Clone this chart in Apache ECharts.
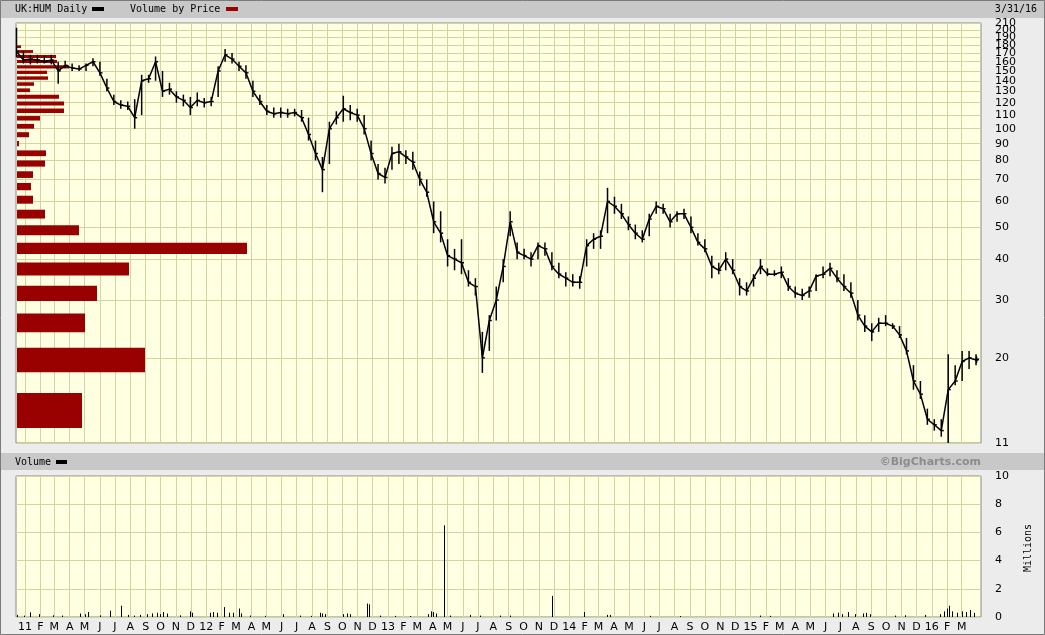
<!DOCTYPE html>
<html><head><meta charset="utf-8">
<script src="https://cdn.jsdelivr.net/npm/echarts@6/dist/echarts.min.js"></script>
<style>html,body{margin:0;padding:0;background:#ececec;}#c{width:1045px;height:635px;}</style>
</head><body><div id="c"></div><script>
// ---- data ----
const priceDates = ['2010-12-15','2010-12-29','2011-01-12','2011-01-26','2011-02-09','2011-02-23','2011-03-09','2011-03-23','2011-04-06','2011-04-20','2011-05-04','2011-05-18','2011-06-01','2011-06-15','2011-06-29','2011-07-13','2011-07-27','2011-08-10','2011-08-24','2011-09-07','2011-09-21','2011-10-05','2011-10-19','2011-11-02','2011-11-16','2011-11-30','2011-12-14','2011-12-28','2012-01-11','2012-01-25','2012-02-08','2012-02-22','2012-03-07','2012-03-21','2012-04-04','2012-04-18','2012-05-02','2012-05-16','2012-05-30','2012-06-13','2012-06-27','2012-07-11','2012-07-25','2012-08-08','2012-08-22','2012-09-05','2012-09-19','2012-10-03','2012-10-17','2012-10-31','2012-11-14','2012-11-28','2012-12-12','2012-12-26','2013-01-09','2013-01-23','2013-02-06','2013-02-20','2013-03-06','2013-03-20','2013-04-03','2013-04-17','2013-05-01','2013-05-15','2013-05-29','2013-06-12','2013-06-26','2013-07-10','2013-07-24','2013-08-07','2013-08-21','2013-09-04','2013-09-18','2013-10-02','2013-10-16','2013-10-30','2013-11-13','2013-11-27','2013-12-11','2013-12-25','2014-01-08','2014-01-22','2014-02-05','2014-02-19','2014-03-05','2014-03-19','2014-04-02','2014-04-16','2014-04-30','2014-05-14','2014-05-28','2014-06-11','2014-06-25','2014-07-09','2014-07-23','2014-08-06','2014-08-20','2014-09-03','2014-09-17','2014-10-01','2014-10-15','2014-10-29','2014-11-12','2014-11-26','2014-12-10','2014-12-24','2015-01-07','2015-01-21','2015-02-04','2015-02-18','2015-03-04','2015-03-18','2015-04-01','2015-04-15','2015-04-29','2015-05-13','2015-05-27','2015-06-10','2015-06-24','2015-07-08','2015-07-22','2015-08-05','2015-08-19','2015-09-02','2015-09-16','2015-09-30','2015-10-14','2015-10-28','2015-11-11','2015-11-25','2015-12-09','2015-12-23','2016-01-06','2016-01-20','2016-02-03','2016-02-17','2016-03-02','2016-03-16','2016-03-30','2016-03-31'];
const priceLow = [165,158,157,158,158,157,137,153,150,150,150,155,145,130,118,115,114,100,110,138,140,125,127,120,117,110,117,116,117,125,160,158,150,142,125,118,110,108,108,108,109,105,92,80,64,78,103,105,106,105,96,80,70,68,75,78,78,75,67,62,48,45,38,37,36,33,31,18,21,26,34,47,40,40,38,40,41,37,35,33,33,32.5,38,43,43,48,55,53,49,46,45,47,55,55,50,52,53,48,44,42,35,36,37,36,31,31,33,36,35.5,35.5,35,32,30.5,30,30.5,32,35,35.5,34,32,30.5,26,24,22.5,24,25,24.5,23,20.5,16,15,12.5,12,11.5,11,16.5,17,18.5,19,19.3];
const priceHigh = [203,172,168,168,167,168,160,161,158,156,158,164,160,142,127,122,121,123,146,146,166,150,138,130,127,125,129,124,125,155,175,170,160,156,140,127,118,116,116,115,115,114,108,92,82,105,113,126,118,115,110,92,78,76,88,90,86,85,74,70,60,56,46,43,46,37,35,24,27,33,40,56,45,43,42,45,45,42,39,36.5,36,35.5,46,48,49,66,62,59,54,51,49,55,60,59,55,56,57,54,48,46,41,39,42,40,35,34,36,40,37.5,37,38,35,33,32.5,33,36,38,39,37,36,34,30,27,25.5,26.5,27,25.5,25,23,19,17,14,13,13,20.5,19,21,21,20.5,20.2];
const priceClose = [172,162,163,162,160,162,150,156,153,152,156,160,148,133,121,118,117,108,140,142,160,130,132,125,122,116,122,120,121,150,168,163,155,148,130,121,113,111,112,111,112,108,96,84,75,100,108,115,112,110,100,84,73,71,84,85,82,79,70,64,52,48,41,40,39,34,33,20,26,30,38,52,42,41,40,44,43,38,36,35,34,34,44,46,47,60,58,55,51,48,46,53,58,57,52,55,55,50,45,43,38,37,40,37,33,32,35,38,36,36,36.5,33,31.5,31,32,35.5,36,37.5,35,33,31.5,27,25,24,25.5,25.5,25,23.5,21,17,15.5,13,12.5,12,16,17,19.5,20,19.7,19.8];

const volDates = ['2010-12-17','2010-12-31','2011-01-12','2011-01-30','2011-02-27','2011-03-17','2011-04-22','2011-05-02','2011-05-08','2011-06-01','2011-06-22','2011-07-14','2011-07-28','2011-08-09','2011-08-21','2011-09-04','2011-09-14','2011-09-24','2011-09-30','2011-10-06','2011-10-14','2011-11-09','2011-11-30','2011-12-04','2012-01-09','2012-01-15','2012-01-23','2012-02-06','2012-02-16','2012-02-24','2012-03-07','2012-03-11','2012-03-29','2012-04-29','2012-06-04','2012-07-08','2012-07-30','2012-08-17','2012-08-21','2012-08-27','2012-10-03','2012-10-11','2012-10-17','2012-11-20','2012-11-24','2012-12-16','2013-01-15','2013-02-14','2013-03-23','2013-03-29','2013-04-02','2013-04-08','2013-04-24','2013-05-06','2013-06-15','2013-07-05','2013-08-15','2013-09-04','2013-11-27','2014-01-31','2014-03-17','2014-03-23','2014-06-13','2014-08-12','2015-01-20','2015-02-09','2015-06-16','2015-06-26','2015-07-04','2015-07-16','2015-07-30','2015-08-16','2015-08-22','2015-08-30','2015-10-19','2015-11-08','2015-12-18','2016-01-18','2016-01-26','2016-02-01','2016-02-05','2016-02-11','2016-02-21','2016-03-02','2016-03-10','2016-03-18','2016-03-26'];
const volMillions = [0.15,0.1,0.33,0.2,0.12,0.1,0.25,0.2,0.35,0.12,0.45,0.8,0.15,0.1,0.15,0.2,0.25,0.3,0.2,0.35,0.25,0.12,0.4,0.3,0.3,0.35,0.3,0.7,0.3,0.3,0.6,0.25,0.1,0.08,0.2,0.1,0.08,0.3,0.25,0.2,0.2,0.25,0.2,0.95,0.9,0.1,0.08,0.06,0.2,0.4,0.35,0.25,6.5,0.1,0.15,0.1,0.1,0.1,1.5,0.35,0.15,0.15,0.08,0.05,0.1,0.08,0.25,0.3,0.2,0.35,0.2,0.25,0.3,0.2,0.1,0.12,0.15,0.2,0.4,0.6,0.8,0.4,0.3,0.4,0.35,0.5,0.3];

// volume by price: bucket centre prices and relative volume
const vbpCenters = [13.93,19.78,25.63,31.49,37.34,43.19,49.04,54.90,60.75,66.60,72.45,78.31,84.16,90.01,95.86,101.72,107.57,113.42,119.27,125.13,130.98,136.83,142.68,148.54,154.39,160.24,166.09,171.95,177.80];
const vbpVolume = [65,128,68,80,112,230,62,28,16,14,16,28,29,2,12,17,23,47,47,42,13,17,31,30,52,40,39,16,4];

const priceTicks = [11,20,30,40,50,60,70,80,90,100,110,120,130,140,150,160,170,180,190,200,210];
const volTicks = [0,2,4,6,8,10];
const monthLabels = ['11','F','M','A','M','J','J','A','S','O','N','D',
 '12','F','M','A','M','J','J','A','S','O','N','D',
 '13','F','M','A','M','J','J','A','S','O','N','D',
 '14','F','M','A','M','J','J','A','S','O','N','D',
 '15','F','M','A','M','J','J','A','S','O','N','D',
 '16','F','M'];

// ---- axis helpers ----
const ts = s => { const p = s.split('-'); return +new Date(+p[0], +p[1] - 1, +p[2]); };
const monthTicks = monthLabels.map((l, i) => +new Date(2011, i, 1));
const tickLabel = {};
monthTicks.forEach((t, i) => { tickLabel[t] = monthLabels[i]; });
const xMin = +new Date(2010, 11, 14), xMax = +new Date(2016, 3, 9);
const gridCol = '#d4d4a2';
const F = 'DejaVu Sans';
const VBP_MAX = 965;

const chart = echarts.init(document.getElementById('c'));
chart.setOption({
  animation: false,
  backgroundColor: '#ececec',
  grid: [
    {left: 16, top: 23, width: 965, height: 420, show: true, backgroundColor: '#ffffe2', borderColor: '#8a8a8a', borderWidth: 1},
    {left: 16, top: 476, width: 965, height: 141, show: true, backgroundColor: '#ffffe2', borderColor: '#8a8a8a', borderWidth: 1}
  ],
  xAxis: [
    {type: 'value', gridIndex: 0, min: xMin, max: xMax, axisLine: {show: false},
     axisTick: {show: false, customValues: monthTicks}, axisLabel: {show: false, customValues: monthTicks},
     splitLine: {show: true, lineStyle: {color: gridCol, width: 1}}},
    {type: 'value', gridIndex: 1, min: xMin, max: xMax, axisLine: {show: false},
     axisTick: {show: false, customValues: monthTicks},
     axisLabel: {show: true, customValues: monthTicks, margin: 5, color: '#000', fontFamily: F, fontSize: 11,
       hideOverlap: false, showMinLabel: true, showMaxLabel: true, formatter: v => tickLabel[v] || ''},
     splitLine: {show: true, lineStyle: {color: gridCol, width: 1}}},
    {type: 'value', gridIndex: 0, min: 0, max: VBP_MAX, show: false}
  ],
  yAxis: [
    {type: 'log', logBase: 10, gridIndex: 0, min: 11, max: 210.02, position: 'right',
     axisLine: {show: false}, axisTick: {show: false, customValues: priceTicks},
     axisLabel: {show: false, customValues: priceTicks},
     splitLine: {show: true, lineStyle: {color: gridCol, width: 1}}},
    {type: 'value', gridIndex: 1, min: 0, max: 10, interval: 2, position: 'right',
     axisLine: {show: false}, axisTick: {show: false},
     axisLabel: {margin: 14, color: '#000', fontFamily: F, fontSize: 11, showMinLabel: true, showMaxLabel: true},
     splitLine: {show: true, lineStyle: {color: gridCol, width: 1}}}
  ],
  series: [
    {type: 'custom', xAxisIndex: 2, yAxisIndex: 0, z: 2, silent: true,
     data: vbpCenters.map((c, i) => [vbpVolume[i], c]),
     encode: {x: 0, y: 1},
     renderItem: (params, api) => {
       const c = api.value(1), v = api.value(0);
       const p0 = api.coord([0, c + 1.7]);
       const p1 = api.coord([v, c - 1.7]);
       return {type: 'rect', shape: {x: p0[0] + 1, y: p0[1], width: p1[0] - p0[0], height: p1[1] - p0[1]},
               style: {fill: '#990000'}};
     }},
    // price-axis tick labels placed through the log scale (all shown, overlapping as in the original)
    {type: 'custom', xAxisIndex: 2, yAxisIndex: 0, z: 5, silent: true, clip: false,
     data: priceTicks.map(v => [VBP_MAX, v]),
     encode: {x: 0, y: 1},
     renderItem: (params, api) => {
       const p = api.coord([api.value(0), api.value(1)]);
       return {type: 'text', x: p[0] + 14, y: p[1],
               style: {text: String(api.value(1)), font: '11px "DejaVu Sans"', fill: '#000', align: 'left', verticalAlign: 'middle'}};
     }},
    {type: 'line', xAxisIndex: 0, yAxisIndex: 0, z: 3, silent: true, symbol: 'none',
     data: priceDates.map((d, i) => [ts(d), priceClose[i]]),
     lineStyle: {color: '#000', width: 1.5}},
    {type: 'custom', xAxisIndex: 0, yAxisIndex: 0, z: 4, silent: true,
     data: priceDates.map((d, i) => [ts(d), priceLow[i], priceHigh[i], priceClose[i]]),
     encode: {x: 0, y: [1, 2, 3]},
     renderItem: (params, api) => {
       const t = api.value(0);
       const lo = api.coord([t, api.value(1)]);
       const hi = api.coord([t, api.value(2)]);
       const c = api.coord([t, api.value(3)]);
       return {type: 'group', children: [
         {type: 'line', shape: {x1: lo[0], y1: lo[1], x2: hi[0], y2: hi[1]}, style: {stroke: '#000', lineWidth: 1.5}},
         {type: 'line', shape: {x1: c[0], y1: c[1], x2: c[0] + 2.5, y2: c[1]}, style: {stroke: '#000', lineWidth: 1.5}}
       ]};
     }},
    {type: 'custom', xAxisIndex: 1, yAxisIndex: 1, silent: true,
     data: volDates.map((d, i) => [ts(d), volMillions[i]]),
     encode: {x: 0, y: 1},
     renderItem: (params, api) => {
       const t = api.value(0);
       const top = api.coord([t, api.value(1)]);
       const base = api.coord([t, 0]);
       const x = Math.round(top[0]) + 0.5;
       return {type: 'line', shape: {x1: x, y1: base[1], x2: x, y2: Math.min(top[1], base[1] - 1)},
               style: {stroke: '#000', lineWidth: 1}};
     }}
  ],
  graphic: [
    {type: 'rect', z: 10, shape: {x: 0, y: 0, width: 1045, height: 18}, style: {fill: '#c8c8c8'}},
    {type: 'text', z: 11, x: 15, y: 9, style: {text: 'UK:HUM Daily', font: '10px "DejaVu Sans Mono"', fill: '#000', verticalAlign: 'middle'}},
    {type: 'rect', z: 11, shape: {x: 92, y: 7, width: 12, height: 4}, style: {fill: '#000'}},
    {type: 'text', z: 11, x: 130, y: 9, style: {text: 'Volume by Price', font: '10px "DejaVu Sans Mono"', fill: '#000', verticalAlign: 'middle'}},
    {type: 'rect', z: 11, shape: {x: 226, y: 7, width: 12, height: 4}, style: {fill: '#990000'}},
    {type: 'text', z: 11, x: 1037, y: 9, style: {text: '3/31/16', font: '10px "DejaVu Sans Mono"', fill: '#000', align: 'right', verticalAlign: 'middle'}},
    {type: 'rect', z: 10, shape: {x: 0, y: 453, width: 1045, height: 17}, style: {fill: '#c8c8c8'}},
    {type: 'text', z: 11, x: 15, y: 462, style: {text: 'Volume', font: '10px "DejaVu Sans Mono"', fill: '#000', verticalAlign: 'middle'}},
    {type: 'rect', z: 11, shape: {x: 56, y: 460, width: 11, height: 4}, style: {fill: '#000'}},
    {type: 'text', z: 11, x: 981, y: 462, style: {text: '\u00A9BigCharts.com', font: 'bold 11px "DejaVu Sans"', fill: '#8c8c8c', align: 'right', verticalAlign: 'middle'}},
    {type: 'text', z: 11, x: 1028, y: 548, rotation: Math.PI / 2, style: {text: 'Millions', font: '10px "DejaVu Sans Mono"', fill: '#000', align: 'center', verticalAlign: 'middle'}},
    {type: 'rect', z: 12, shape: {x: 0.5, y: 0.5, width: 1044, height: 634}, style: {fill: null, stroke: '#7a7a7a', lineWidth: 1}}
  ]
});
</script></body></html>
